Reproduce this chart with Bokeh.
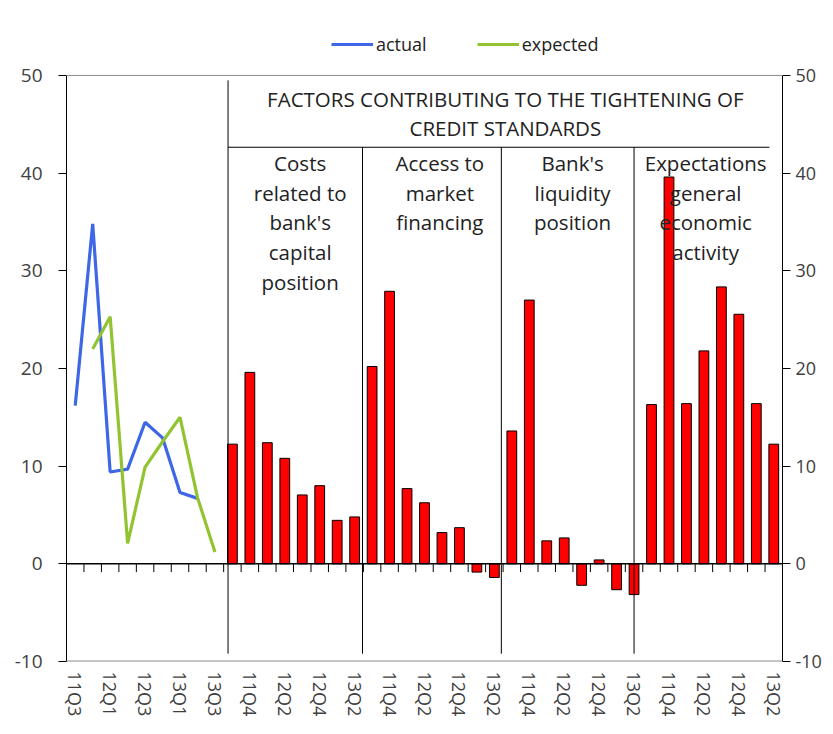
from bokeh.plotting import figure
from bokeh.models import (Range1d, LinearAxis, FixedTicker, Span, Legend, LegendItem)
from bokeh.embed import file_html
from bokeh.resources import INLINE
from bokeh.core.properties import value
import numpy as np

# ---------------- data ----------------
line_quarters = ["11Q3", "11Q4", "12Q1", "12Q2", "12Q3", "12Q4", "13Q1", "13Q2", "13Q3"]
actual = [16.2, 34.8, 9.4, 9.7, 14.5, 12.9, 7.3, 6.7, None]
expected = [None, 22.0, 25.3, 2.1, 9.9, 12.5, 15.0, 6.8, 1.2]

bar_quarters = ["11Q3", "11Q4", "12Q1", "12Q2", "12Q3", "12Q4", "13Q1", "13Q2"]
capital_costs = [12.25, 19.6, 12.4, 10.8, 7.05, 8.0, 4.45, 4.8]
market_access = [20.2, 27.9, 7.7, 6.25, 3.2, 3.7, -0.85, -1.4]
liquidity = [13.6, 27.0, 2.35, 2.65, -2.2, 0.4, -2.65, -3.15]
economic_expectations = [16.3, 39.6, 16.4, 21.8, 28.35, 25.55, 16.4, 12.25]

factor_titles = ["Costs\nrelated to\nbank's\ncapital\nposition",
                 "Access to\nmarket\nfinancing",
                 "Bank's\nliquidity\nposition",
                 "Expectations\ngeneral\neconomic\nactivity"]
header_title = "FACTORS CONTRIBUTING TO THE TIGHTENING OF\nCREDIT STANDARDS"
y_ticks = [-10, 0, 10, 20, 30, 40, 50]
y_tick_labels = ["-10", "0", "10", "20", "30", "40", "50"]

# ---------------- layout / style ----------------
FONT = "Open Sans"
TXT = "#222222"
TICK_TXT = "#404040"
BLUE = "#3d67e6"
GREEN = "#92c431"
Y_MIN, Y_MAX, Y_TOP = -10, 50, 54.6   # extra headroom holds the legend

groups = [capital_costs, market_access, liquidity, economic_expectations]
all_labels = line_quarters + bar_quarters * len(groups)
n_cat = len(all_labels)

p = figure(width=825, height=726, output_backend="svg", toolbar_location=None,
           x_range=Range1d(0, n_cat), y_range=Range1d(Y_MIN, Y_TOP),
           min_border_left=66, min_border_right=43, min_border_top=30,
           min_border_bottom=65, x_axis_location=None, y_axis_location=None)
p.grid.visible = False
p.outline_line_color = None
p.background_fill_color = "white"
p.border_fill_color = "white"

def y_axis(size, standoff):
    ax = LinearAxis(ticker=FixedTicker(ticks=y_ticks), bounds=(Y_MIN, Y_MAX))
    ax.major_label_overrides = dict(zip(y_ticks, y_tick_labels))
    ax.major_tick_out = 8
    ax.major_tick_in = 0
    ax.minor_tick_out = 0
    ax.minor_tick_in = 0
    ax.axis_line_color = "black"
    ax.axis_line_width = 1
    ax.major_tick_line_color = "black"
    ax.major_label_text_font = FONT
    ax.major_label_text_font_size = size
    ax.major_label_text_color = TICK_TXT
    ax.major_label_standoff = standoff
    return ax

p.add_layout(y_axis("19px", 16), "left")
p.add_layout(y_axis("18px", 5), "right")

# plot-area top / bottom border
p.add_layout(Span(location=Y_MAX, dimension="width", line_color="#8c8c8c", line_width=1))
p.add_layout(Span(location=Y_MIN, dimension="width", line_color="#8c8c8c", line_width=2))

# bottom category labels (every second category)
label_pos = [i + 0.5 for i in range(0, n_cat, 2)]
xb = LinearAxis(ticker=FixedTicker(ticks=label_pos))
xb.major_label_overrides = {i + 0.5: all_labels[i] for i in range(0, n_cat, 2)}
xb.major_label_orientation = "vertical"
xb.axis_line_color = None
xb.major_tick_line_color = None
xb.minor_tick_line_color = None
xb.major_tick_out = 0
xb.major_tick_in = 0
xb.major_label_text_font = FONT
xb.major_label_text_font_size = "18px"
xb.major_label_text_color = TICK_TXT
xb.major_label_standoff = 10
p.add_layout(xb, "below")

# zero line with boundary tick marks
p.add_layout(Span(location=0, dimension="width", line_color="black", line_width=1.5))
bounds = list(range(1, n_cat))
p.segment(x0=bounds, y0=[0] * len(bounds), x1=bounds, y1=[-0.85] * len(bounds),
          line_color="black", line_width=1)

# bars
bar_x, bar_top = [], []
for g, vals in enumerate(groups):
    start = len(line_quarters) + g * len(bar_quarters)
    for j, v in enumerate(vals):
        bar_x.append(start + j + 0.5)
        bar_top.append(v)
p.vbar(x=bar_x, top=bar_top, bottom=0, width=0.56, fill_color="#ff0000",
       line_color="black", line_width=1)

# lines
lx = [i + 0.5 for i in range(len(line_quarters))]
ya = [np.nan if v is None else v for v in actual]
ye = [np.nan if v is None else v for v in expected]
r_act = p.line(lx, ya, line_color=BLUE, line_width=3.2)
r_exp = p.line(lx, ye, line_color=GREEN, line_width=3.2)

# separators / header box
sep_x = [9.25, 16.95, 24.9, 32.5]
sep_top = [49.5, 42.65, 42.65, 42.65]
p.segment(x0=sep_x, y0=sep_top, x1=sep_x, y1=[-9.2] * 4, line_color="black", line_width=1)
p.segment(x0=[9.25], y0=[42.65], x1=[40.25], y1=[42.65], line_color="black", line_width=1.2)

p.text(x=[25.13], y=[49.0], text=[header_title], text_font=value(FONT),
       text_font_size="20.5px", text_color=TXT, text_align="center",
       text_baseline="top", text_line_height=1.03)
title_x = [13.38, 21.38, 28.98, 36.6]
p.text(x=title_x, y=[42.5] * 4, text=factor_titles, text_font=value(FONT),
       text_font_size="20.5px", text_color=TXT, text_align="center",
       text_baseline="top", text_line_height=1.065)

legend = Legend(items=[LegendItem(label="actual", renderers=[r_act]),
                       LegendItem(label="expected", renderers=[r_exp])],
                orientation="horizontal", location=(265, 605),
                glyph_width=42, glyph_height=18, label_standoff=3, spacing=50,
                padding=0, margin=0, border_line_color=None,
                background_fill_alpha=0, label_text_font=FONT,
                label_text_font_size="18px", label_text_color=TXT)
p.add_layout(legend, "center")

open("out.html", "w").write(file_html(p, INLINE))
